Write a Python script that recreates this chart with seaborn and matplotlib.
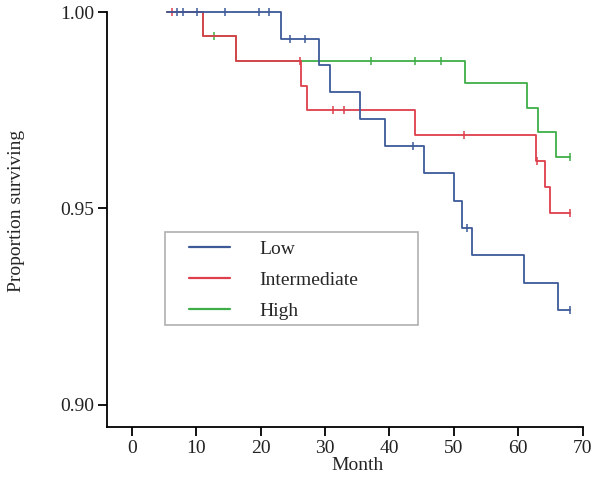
import numpy as np
import pandas as pd
import matplotlib
matplotlib.use("Agg")
import matplotlib.pyplot as plt
from matplotlib.patches import Rectangle
import seaborn as sns

sns.set_style("ticks")
plt.rcParams["font.family"] = ["Liberation Serif", "DejaVu Serif"]

# ==========================
# DATA
# ==========================
groups = ["Low", "Intermediate", "High"]
colors = {"Low": "#3d5a98", "Intermediate": "#de3f4c", "High": "#3fae48"}

start_month = 5.5

low_times = [23.1, 29.0, 30.7, 35.5, 39.3, 45.3, 50.1, 51.2, 52.8, 60.9, 66.2]
low_surv = [0.9932, 0.9864, 0.9796, 0.9728, 0.9658, 0.9589, 0.9520, 0.9451, 0.9381, 0.9311, 0.9241]
low_censor = [7.0, 7.9, 10.1, 14.5, 19.8, 21.3, 24.5, 26.9, 43.7, 52.0, 68.1]

mid_times = [11.0, 16.2, 26.2, 27.2, 44.0, 62.7, 64.1, 64.9]
mid_surv = [0.9939, 0.9876, 0.9812, 0.9750, 0.9686, 0.9620, 0.9555, 0.9489]
mid_censor = [6.2, 26.1, 31.3, 33.0, 51.6, 62.9, 68.1]

high_times = [11.0, 16.2, 51.8, 61.3, 63.0, 65.9]
high_surv = [0.9939, 0.9876, 0.9819, 0.9756, 0.9694, 0.9631]
high_censor = [12.7, 37.1, 43.9, 48.0, 68.1]

end_month = 68.1

series = {
    "Low": (low_times, low_surv, low_censor),
    "Intermediate": (mid_times, mid_surv, mid_censor),
    "High": (high_times, high_surv, high_censor),
}

# ==========================
# BUILD TABLES
# ==========================
step_rows = []
cens_rows = []
for g, (t, s, c) in series.items():
    xs = [start_month] + t + [end_month]
    ys = [1.0] + s + [s[-1]]
    for x, y in zip(xs, ys):
        step_rows.append({"Month": x, "Survival": y, "Group": g})
    for ct in c:
        idx = np.searchsorted(t, ct, side="right")
        val = 1.0 if idx == 0 else s[idx - 1]
        cens_rows.append({"Month": ct, "Survival": val, "Group": g})

steps = pd.DataFrame(step_rows)
cens = pd.DataFrame(cens_rows)

# ==========================
# PLOT
# ==========================
fig = plt.figure(figsize=(6.0, 4.82), dpi=100)
ax = fig.add_axes([0.178, 0.1135, 0.793, 0.8616])

handles = {}
for z, g in zip([3, 2, 1], groups):
    d = steps[steps["Group"] == g]
    sns.lineplot(data=d, x="Month", y="Survival", color=colors[g], lw=1.3,
                 drawstyle="steps-post", estimator=None, sort=False,
                 ax=ax, zorder=z, clip_on=False, legend=False)
    handles[g] = ax.lines[-1]
    dc = cens[cens["Group"] == g]
    sns.scatterplot(data=dc, x="Month", y="Survival", color=colors[g],
                    marker="|", s=35, linewidth=1.1, ax=ax, zorder=z,
                    clip_on=False, legend=False)

ax.set_xlim(-3.88, 70)
ax.set_ylim(0.8943, 1.0)
ax.set_xticks(range(0, 71, 10))
ax.set_yticks([0.90, 0.95, 1.00])
ax.set_yticklabels(["0.90", "0.95", "1.00"])

for side in ["top", "right"]:
    ax.spines[side].set_visible(False)
for side in ["left", "bottom"]:
    ax.spines[side].set_linewidth(1.3)
    ax.spines[side].set_color("black")
ax.tick_params(direction="out", length=6.3, width=1.3, labelsize=14,
               colors="black", pad=2.5)
for lab in ax.get_xticklabels() + ax.get_yticklabels():
    lab.set_color("#222222")

ax.set_xlabel("Month", fontsize=14, labelpad=0)
ax.set_ylabel("Proportion surviving", fontsize=14, labelpad=8)
ax.xaxis.set_label_coords(0.526, -0.072)
ax.yaxis.set_label_coords(-0.172, 0.52)

# legend with a plain grey box around it
box = Rectangle((0.1225, 0.2463), 0.5315, 0.224, transform=ax.transAxes,
                fill=False, edgecolor="#b0b0b0", lw=1.2, zorder=5)
ax.add_patch(box)
leg = ax.legend([handles[g] for g in groups], groups, loc="upper left",
                bbox_to_anchor=(0.137, 0.492), frameon=False, fontsize=14,
                handlelength=2.06, handletextpad=1.55, labelspacing=0.68,
                borderpad=0.4)
for line in leg.get_lines():
    line.set_linewidth(1.6)

fig.savefig("out.png", dpi=100)
